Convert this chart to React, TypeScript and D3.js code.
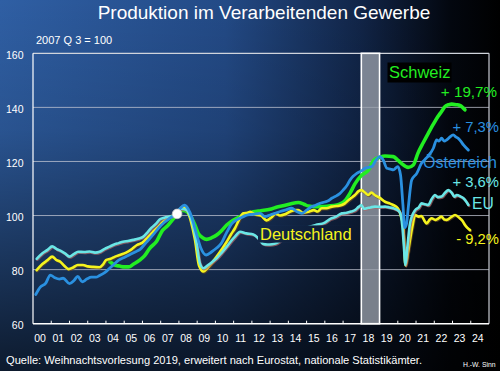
import React from 'react';
import * as d3 from 'd3';

const W = 500;
const H = 371;

const titleText = 'Produktion im Verarbeitenden Gewerbe';
const subtitleText = '2007 Q 3 = 100';
const sourceText = 'Quelle: Weihnachtsvorlesung 2019, erweitert nach Eurostat, nationale Statistikämter.';
const authorText = 'H.-W. Sinn';

const yTicks = [60, 80, 100, 120, 140, 160];
const yearLabels = ['00','01','02','03','04','05','06','07','08','09','10','11','12','13','14','15','16','17','18','19','20','21','22','23','24'];
const bandYear = 2018;
const baseYear = 2007.9;
const baseValue = 100.6;

// [year, index value]
const oesterreich: [number, number][] = [
  [2000.15,70.8],[2000.4,73.5],[2000.7,75],[2000.95,78],[2001.2,77],[2001.45,76.5],[2001.65,76.8],[2002.0,74.8],
  [2002.25,76],[2002.45,77.5],[2002.7,75.5],[2002.95,76.5],[2003.2,77.2],[2003.45,77.2],[2003.65,77.8],[2003.95,79],
  [2004.2,80.5],[2004.45,82],[2004.7,83.5],[2005.0,84.5],[2005.3,85.5],[2005.6,86.5],[2005.87,87.5],[2006.2,90],
  [2006.6,93],[2006.9,95.5],[2007.2,97.5],[2007.5,99],[2007.8,100.5],[2008.05,102.5],[2008.3,103.8],[2008.5,102.5],
  [2008.7,99.5],[2008.95,93.5],[2009.2,88],[2009.5,85.4],[2009.8,86.6],[2010.05,87.9],[2010.3,89.5],[2010.6,93.5],
  [2010.9,97],[2011.2,98.5],[2011.5,99.5],[2011.75,100.2],[2012.1,100.5],[2012.45,100.8],[2012.72,99.6],[2013.0,100.2],
  [2013.27,100.8],[2013.55,101.5],[2013.82,102],[2014.18,102.7],[2014.45,101.5],[2014.73,100.8],[2015.0,102],[2015.28,103.3],
  [2015.5,103.8],[2015.73,104.5],[2016.0,105],[2016.19,105.5],[2016.4,106.5],[2016.56,107],[2016.8,108],[2017.0,109.4],
  [2017.2,111],[2017.38,113.1],[2017.55,114.5],[2017.75,115.6],[2018.0,116.5],[2018.2,117.5],[2018.4,117.8],[2018.57,118.1],
  [2018.8,120.5],[2019.02,121.8],[2019.2,120.5],[2019.4,117.5],[2019.6,117.2],[2019.75,116.9],[2020.0,118.1],[2020.15,115],
  [2020.28,104],[2020.38,95.5],[2020.48,97],[2020.58,103.3],[2020.76,113.1],[2021.04,115.6],[2021.3,119.3],[2021.6,121.5],
  [2021.95,124.9],[2022.13,128],[2022.25,127.5],[2022.4,128.6],[2022.55,127.5],[2022.68,128],[2022.85,129],[2023.04,129.8],
  [2023.2,129],[2023.3,128.6],[2023.45,127.5],[2023.6,126.1],[2023.87,124.2]
];

const deutschland: [number, number][] = [
  [2000.2,79.8],[2000.5,82],[2000.8,83.5],[2001.05,84.8],[2001.3,83.5],[2001.5,82.9],[2001.7,81.5],[2001.95,80.2],
  [2002.2,80.8],[2002.45,81.7],[2002.74,81.7],[2003.0,81.2],[2003.3,81],[2003.65,80.9],[2003.85,82],[2004.0,83.5],
  [2004.25,84],[2004.5,84.8],[2004.8,85.5],[2005.1,86.3],[2005.4,87.5],[2005.7,89.1],[2006.0,90],[2006.3,92],
  [2006.55,93.8],[2006.78,95.3],[2007.1,97.5],[2007.5,99.6],[2007.85,100.5],[2008.05,102.5],[2008.24,103.3],[2008.45,102],
  [2008.65,98],[2008.88,91],[2009.1,81.5],[2009.34,79.3],[2009.55,80.5],[2009.75,82],[2010.07,84.8],[2010.35,87.5],
  [2010.62,90.3],[2010.85,93],[2011.07,95.3],[2011.3,98.5],[2011.53,100.8],[2011.75,101],[2011.9,101.4],[2012.15,100.5],
  [2012.5,100],[2012.8,98.2],[2013.1,99.5],[2013.3,100.8],[2013.55,100],[2013.82,100.5],[2014.1,101.5],[2014.35,102],
  [2014.55,102],[2014.8,101],[2015.1,101.4],[2015.4,102],[2015.6,101.5],[2015.83,102.7],[2016.1,102.7],[2016.38,103.3],
  [2016.65,103.5],[2016.93,103.9],[2017.1,104.5],[2017.3,105.7],[2017.5,106.8],[2017.65,107.6],[2017.85,109],[2018.0,109.4],
  [2018.2,108.5],[2018.38,107.6],[2018.55,108.5],[2018.75,107.5],[2019.02,106.5],[2019.3,105.1],[2019.55,104.5],[2019.75,103.9],
  [2020.0,102.7],[2020.2,99],[2020.3,95.9],[2020.42,81.5],[2020.55,86],[2020.67,91],[2020.8,96],[2020.95,100.2],
  [2021.15,99.6],[2021.3,99.8],[2021.45,98.2],[2021.58,97.1],[2021.75,98.5],[2021.86,99],[2022.05,98.4],[2022.2,98.8],
  [2022.4,99.6],[2022.55,98.5],[2022.68,98.4],[2022.9,99.3],[2023.14,100.2],[2023.4,99],[2023.55,98],[2023.68,96.5],
  [2023.96,94.6]
];

const eu: [number, number][] = [
  [2000.2,84],[2000.5,86],[2000.8,87.3],[2001.05,88.6],[2001.3,87.6],[2001.5,87],[2001.75,86],[2002.0,84.8],
  [2002.25,85.8],[2002.47,86.6],[2002.8,86.5],[2003.1,86.7],[2003.4,86.3],[2003.65,86.6],[2003.93,87.7],[2004.2,88.5],
  [2004.45,89.3],[2004.7,89.8],[2004.93,90.3],[2005.2,90.6],[2005.5,91],[2005.8,91.5],[2006.05,92.2],[2006.3,94],
  [2006.5,95.5],[2006.75,97],[2006.96,98.6],[2007.2,99.2],[2007.5,99.6],[2007.85,100.3],[2008.15,102.5],[2008.43,102],
  [2008.6,100],[2008.75,97],[2008.97,89.7],[2009.15,82.3],[2009.34,80.5],[2009.6,81.7],[2009.85,83],[2010.07,84.2],
  [2010.35,86.3],[2010.62,88.5],[2010.85,90.5],[2011.07,92.2],[2011.35,94],[2011.7,93.4],[2012.08,93],[2012.35,91.6],
  [2012.6,89.6],[2012.85,89.3],[2013.1,89.4],[2013.35,89.8],[2013.7,91.5],[2014.0,93],[2014.5,94.5],[2015.0,95.5],
  [2015.5,96.5],[2016.0,97.4],[2016.3,98.8],[2016.6,99.5],[2016.93,100.8],[2017.2,101],[2017.45,101.5],[2017.65,102],
  [2017.85,103.2],[2018.0,103.9],[2018.15,102.5],[2018.3,102.7],[2018.5,103],[2018.75,103.3],[2019.0,103.2],[2019.3,103.3],
  [2019.55,103],[2019.75,102.7],[2020.1,101.4],[2020.25,96],[2020.32,90],[2020.42,81.7],[2020.52,88],[2020.67,97.1],
  [2020.95,102],[2021.15,103],[2021.3,104.5],[2021.5,104.2],[2021.67,103.9],[2021.85,106],[2022.04,107.6],[2022.2,106.8],
  [2022.4,107],[2022.6,108.5],[2022.77,109.4],[2022.95,108.5],[2023.1,107],[2023.23,107.6],[2023.45,107],[2023.6,106.4],
  [2023.87,103.9]
];

const schweiz: [number, number][] = [
  [2004.2,83],[2004.48,81.7],[2004.75,81.3],[2005.0,81],[2005.25,81],[2005.5,82],[2005.85,83.5],[2006.1,85],
  [2006.4,87.9],[2006.78,90.5],[2007.1,94.5],[2007.35,96],[2007.7,98.8],[2007.9,100],[2008.15,102],[2008.35,101.8],
  [2008.6,100.2],[2008.85,97],[2009.06,93.4],[2009.3,91.8],[2009.52,91.2],[2009.8,91.8],[2010.07,92.8],[2010.35,94.5],
  [2010.62,96.5],[2010.95,98.2],[2011.35,99.6],[2011.7,100.6],[2012.08,101.4],[2012.5,101.8],[2013.0,102.3],[2013.3,103],
  [2013.63,103.5],[2014.1,104.3],[2014.55,104.8],[2014.85,104.2],[2015.1,103.5],[2015.5,103.3],[2015.83,103.3],[2016.2,103.5],
  [2016.65,103.9],[2016.9,104.5],[2017.1,105.5],[2017.4,108.5],[2017.65,111.7],[2018.0,114.8],[2018.38,116.7],[2018.7,120.5],
  [2019.0,121.5],[2019.3,122],[2019.75,121.8],[2020.0,120.5],[2020.2,119.3],[2020.57,117.8],[2020.85,118.7],[2021.1,123],
  [2021.4,127],[2021.67,130.4],[2021.95,133.8],[2022.2,136.6],[2022.4,138.5],[2022.59,140.3],[2022.8,141],[2022.95,141.2],
  [2023.2,141],[2023.4,140.7],[2023.55,140],[2023.68,139.1]
];

const FONT = '"Liberation Sans", Arial, Helvetica, sans-serif';

export default function App() {
  const x = d3.scaleLinear().domain([2000, 2025]).range([33, 489]);
  const y = d3.scaleLinear().domain([60, 160]).range([323.7, 53.3]);
  const line = d3.line<[number, number]>().x(d => x(d[0])).y(d => y(d[1])).curve(d3.curveMonotoneX);

  const series = [
    { data: schweiz, color: '#22ee22', width: 3.6, shadow: null as string | null },
    { data: deutschland, color: '#f4f41e', width: 2.6, shadow: '#6a4a20' },
    { data: eu, color: '#6ae6e6', width: 2.6, shadow: '#b06a6a' },
    { data: oesterreich, color: '#2a90e0', width: 2.8, shadow: null as string | null },
  ];

  const yearTicks = d3.range(2001, 2025);
  const plotL = x(2000), plotR = x(2025), plotT = y(160), plotB = y(60);

  return (
    <svg width={W} height={H} style={{ position: 'absolute', left: 0, top: 0, display: 'block' }} fontFamily={FONT}>
      <defs>
        <linearGradient id="bgH" gradientUnits="userSpaceOnUse" x1="0" y1="0" x2={W} y2="0">
          <stop offset="0" stopColor="#2f5fa4" />
          <stop offset="0.45" stopColor="#234a86" />
          <stop offset="0.72" stopColor="#112548" />
          <stop offset="0.9" stopColor="#03070f" />
          <stop offset="1" stopColor="#000000" />
        </linearGradient>
        <linearGradient id="bgV" gradientUnits="userSpaceOnUse" x1="0" y1="0" x2="0" y2={H}>
          <stop offset="0" stopColor="#000" stopOpacity="0" />
          <stop offset="0.35" stopColor="#000" stopOpacity="0.12" />
          <stop offset="1" stopColor="#000" stopOpacity="0.72" />
        </linearGradient>
      </defs>
      <rect x={0} y={0} width={W} height={H} fill="url(#bgH)" />
      <rect x={0} y={0} width={W} height={H} fill="url(#bgV)" />

      <text x={264} y={18.5} fill="#ffffff" fontSize={19} textAnchor="middle">{titleText}</text>
      <text x={36} y={44} fill="#ffffff" fontSize={11}>{subtitleText}</text>

      {/* grid */}
      {yTicks.filter(v => v > 60 && v < 160).map(v => (
        <line key={v} x1={plotL} x2={plotR} y1={y(v)} y2={y(v)} stroke="#c4c8d4" strokeOpacity={0.75} strokeWidth={1} />
      ))}
      <line x1={plotL} x2={plotR} y1={plotT} y2={plotT} stroke="#d0d4dc" strokeWidth={1.2} />
      <line x1={plotR} x2={plotR} y1={plotT} y2={plotB} stroke="#c8ccd4" strokeWidth={1.2} />

      {/* 2018 band */}
      <rect x={x(bandYear)} y={plotT} width={x(bandYear + 1) - x(bandYear)} height={plotB - plotT}
        fill="#9aa0ab" fillOpacity={0.78} stroke="#ffffff" strokeWidth={1.6} />

      {/* axes */}
      <line x1={plotL} x2={plotL} y1={plotT} y2={plotB} stroke="#ffffff" strokeWidth={1.2} />
      <line x1={plotL} x2={plotR} y1={plotB} y2={plotB} stroke="#ffffff" strokeWidth={1.4} />
      {yearTicks.map(t => (
        <line key={t} x1={x(t)} x2={x(t)} y1={plotB} y2={plotB - 3} stroke="#ffffff" strokeWidth={1} />
      ))}
      {yTicks.map(v => (
        <text key={v} x={23.5} y={y(v) + 5.2} fill="#ffffff" fontSize={10.5} textAnchor="end">{v}</text>
      ))}
      {yearLabels.map((lab, i) => (
        <text key={lab} x={x(2000 + i + 0.5) - 2} y={341.5} fill="#ffffff" fontSize={10.5} textAnchor="middle">{lab}</text>
      ))}

      {/* lines */}
      {series.map((s, i) => (
        <g key={i}>
          {s.shadow && (
            <path d={line(s.data) || ''} fill="none" stroke={s.shadow} strokeWidth={s.width} strokeOpacity={0.7}
              transform="translate(0.8,0.9)" strokeLinejoin="round" strokeLinecap="round" />
          )}
          <path d={line(s.data) || ''} fill="none" stroke={s.color} strokeWidth={s.width} strokeLinejoin="round" strokeLinecap="round" />
        </g>
      ))}

      <circle cx={x(baseYear)} cy={y(baseValue)} r={4.8} fill="#ffffff" stroke="#cfcfcf" strokeWidth={0.8} />

      {/* Deutschland label with background-matching box */}
      <rect x={258} y={225.5} width={96} height={17} fill="url(#bgH)" />
      <rect x={258} y={225.5} width={96} height={17} fill="url(#bgV)" />
      <text x={260} y={239.5} fill="#f4f41e" fontSize={16.5}>Deutschland</text>

      {/* Schweiz label */}
      <rect x={387.5} y={62.5} width={64} height={20} fill="#000000" />
      <text x={389} y={78} fill="#22ee22" fontSize={16.5}>Schweiz</text>
      <text x={497} y={97} fill="#22ee22" fontSize={15.2} textAnchor="end">+ 19,7%</text>

      <text x={499} y={132} fill="#2a90e0" fontSize={14.8} textAnchor="end">+ 7,3%</text>
      <text x={423} y={167.5} fill="#2a90e0" fontSize={16}>Österreich</text>

      <text x={499} y={187} fill="#6ae6e6" fontSize={14.8} textAnchor="end">+ 3,6%</text>
      <text x={472} y={208.5} fill="#6ae6e6" fontSize={15.6}>EU</text>

      <text x={499} y={244} fill="#f4f41e" fontSize={14.8} textAnchor="end">- 9,2%</text>

      <text x={6} y={364} fill="#ffffff" fontSize={11.1}>{sourceText}</text>
      <text x={463} y={366.5} fill="#ffffff" fontSize={6.8}>{authorText}</text>
    </svg>
  );
}
